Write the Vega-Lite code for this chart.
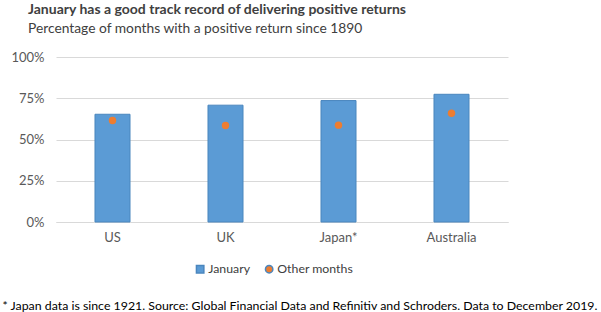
{
  "$schema": "https://vega.github.io/schema/vega-lite/v6.json",
  "autosize": "none",
  "width": 452,
  "height": 165,
  "padding": {"left": 56, "top": 57, "right": 93, "bottom": 90},
  "background": "white",
  "config": {
    "font": "Lato",
    "view": {"stroke": null}
  },
  "title": {
    "text": "January has a good track record of delivering positive returns",
    "subtitle": "Percentage of months with a positive return since 1890",
    "anchor": "start",
    "frame": "group",
    "dx": -28,
    "offset": 15,
    "font": "Lato",
    "fontSize": 14,
    "fontWeight": "bold",
    "color": "#404040",
    "subtitleFont": "Lato",
    "subtitleFontSize": 13.8,
    "subtitleColor": "#404040",
    "subtitlePadding": 5
  },
  "data": {
    "values": [
      {"country": "US", "series": "January", "value": 0.653},
      {"country": "UK", "series": "January", "value": 0.708},
      {"country": "Japan*", "series": "January", "value": 0.736},
      {"country": "Australia", "series": "January", "value": 0.774},
      {"country": "US", "series": "Other months", "value": 0.615},
      {"country": "UK", "series": "Other months", "value": 0.585},
      {"country": "Japan*", "series": "Other months", "value": 0.587},
      {"country": "Australia", "series": "Other months", "value": 0.659}
    ]
  },
  "encoding": {
    "x": {
      "field": "country",
      "type": "nominal",
      "sort": ["US", "UK", "Japan*", "Australia"],
      "scale": {"paddingInner": 0.69, "paddingOuter": 0.345},
      "axis": {
        "title": "* Japan data is since 1921. Source: Global Financial Data and Refinitiv and Schroders. Data to December 2019.",
        "titleAnchor": "start",
        "titleAlign": "left",
        "titleX": -54,
        "titleY": 77,
        "titleFont": "Lato",
        "titleFontSize": 12.35,
        "titleFontWeight": "normal",
        "titleColor": "#000000",
        "labelAngle": 0,
        "labelFontSize": 13,
        "labelColor": "#595959",
        "labelPadding": 9,
        "ticks": false,
        "domainColor": "#d9d9d9",
        "domainWidth": 1
      }
    },
    "y": {
      "field": "value",
      "type": "quantitative",
      "scale": {"domain": [0, 1]},
      "axis": {
        "title": null,
        "format": ".0%",
        "values": [0, 0.25, 0.5, 0.75, 1],
        "labelFontSize": 13,
        "labelColor": "#595959",
        "labelPadding": 12,
        "ticks": false,
        "domain": false,
        "gridColor": "#d9d9d9",
        "gridWidth": 1
      }
    },
    "color": {
      "field": "series",
      "type": "nominal",
      "scale": {"domain": ["January", "Other months"], "range": ["#5B9BD5", "#ED7D31"]},
      "legend": {
        "title": null,
        "orient": "none",
        "direction": "horizontal",
        "legendX": 138,
        "legendY": 206,
        "labelFontSize": 12.3,
        "labelColor": "#404040",
        "symbolSize": 55,
        "columnPadding": 11,
        "labelOffset": 2
      }
    }
  },
  "layer": [
    {
      "transform": [{"filter": "datum.series === 'January'"}],
      "mark": {"type": "bar", "stroke": "#4A86BE", "strokeWidth": 1}
    },
    {
      "transform": [{"filter": "datum.series === 'Other months'"}],
      "mark": {"type": "point", "filled": true, "size": 55, "opacity": 1},
      "encoding": {
        "shape": {
          "field": "series",
          "type": "nominal",
          "scale": {"domain": ["January", "Other months"], "range": ["square", "circle"]},
          "legend": {
            "title": null,
            "orient": "none",
            "direction": "horizontal",
            "legendX": 138,
            "legendY": 206,
            "labelFontSize": 12.3,
            "labelColor": "#404040",
            "symbolSize": 55,
            "columnPadding": 11,
            "labelOffset": 2
          }
        }
      }
    }
  ]
}
